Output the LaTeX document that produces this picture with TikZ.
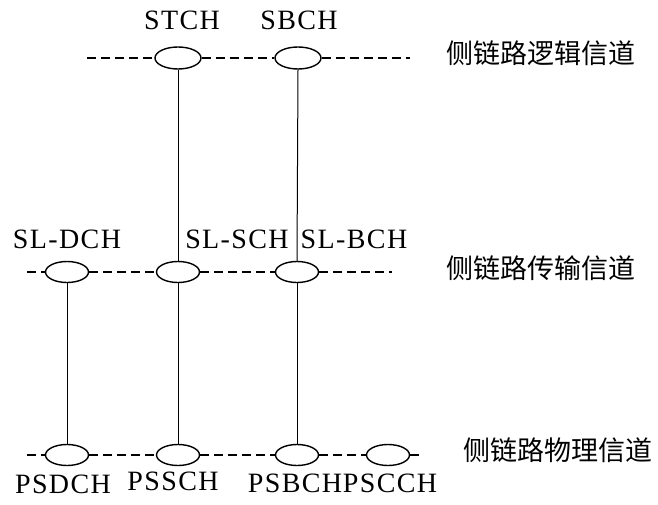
\documentclass[tikz,border=0pt]{standalone}
\usepackage{fontspec}
\setmainfont{Liberation Serif}
\newfontfamily\cjk{Noto Sans CJK SC}
\newfontfamily\labfont[LetterSpace=5]{Liberation Serif}
\usetikzlibrary{shapes.geometric}
\begin{document}
\begin{tikzpicture}[x=1pt,y=1pt,
  chan/.style={ellipse,draw,line width=1.4pt,minimum width=43pt,minimum height=21pt,inner sep=0pt},
  dashline/.style={line width=1.2pt,dash pattern=on 9pt off 5pt},
  link/.style={line width=1pt},
  lab/.style={inner sep=0pt,anchor=base,font=\labfont\fontsize{28}{30}\selectfont},
  cn/.style={inner sep=0pt,font=\cjk\fontsize{27}{30}\selectfont}]
\useasboundingbox (0,0) rectangle (658,504);
% top row
\coordinate (t0) at (87,446);
\coordinate (t3) at (410,446);
\node[chan,minimum width=46pt,minimum height=22pt] (stch) at (178,446) {};
\node[chan,minimum width=46pt,minimum height=22pt] (sbch) at (298,446) {};
% middle row
\coordinate (m0) at (27,232);
\coordinate (m4) at (392,232);
\node[chan] (sldch) at (67,232) {};
\node[chan] (slsch) at (178,232) {};
\node[chan] (slbch) at (297,232) {};
% bottom row
\coordinate (b0) at (27,49);
\coordinate (b5) at (420,49);
\node[chan] (psdch) at (67,49) {};
\node[chan] (pssch) at (178,49) {};
\node[chan] (psbch) at (297,49) {};
\node[chan] (pscch) at (388,49) {};
% dashed channel lines
\draw[dashline] (t0) -- (stch.west);
\draw[dashline] (stch.east) -- (sbch.west);
\draw[dashline] (sbch.east) -- (t3);
\draw[dashline] (m0) -- (sldch.west);
\draw[dashline] (sldch.east) -- (slsch.west);
\draw[dashline] (slsch.east) -- (slbch.west);
\draw[dashline] (slbch.east) -- (m4);
\draw[dashline] (b0) -- (psdch.west);
\draw[dashline] (psdch.east) -- (pssch.west);
\draw[dashline] (pssch.east) -- (psbch.west);
\draw[dashline] (psbch.east) -- (pscch.west);
\draw[dashline] (pscch.east) -- (b5);
% vertical mappings
\draw[link] (stch.south) -- (slsch.north);
\draw[link] (sbch.south) -- (slbch.north);
\draw[link] (sldch.south) -- (psdch.north);
\draw[link] (slsch.south) -- (pssch.north);
\draw[link] (slbch.south) -- (psbch.north);
% labels
\node[lab] (lstch) at (182,474) {STCH};
\node[lab] (lsbch) at (299,474) {SBCH};
\node[lab] (lsldch) at (67,256) {SL-DCH};
\node[lab] (lslsch) at (237,256) {SL-SCH};
\node[lab] (lslbch) at (354,256) {SL-BCH};
\node[lab] (lpsdch) at (63,11) {PSDCH};
\node[lab] (lpssch) at (173,14) {PSSCH};
\node[lab] (lpsbch) at (295,12) {PSBCH};
\node[lab] (lpscch) at (390,12) {PSCCH};
\node[cn] (clog) at (541,451) {侧链路逻辑信道};
\node[cn] (ctr) at (541,236) {侧链路传输信道};
\node[cn] (cphy) at (558,54) {侧链路物理信道};
\end{tikzpicture}
\end{document}
